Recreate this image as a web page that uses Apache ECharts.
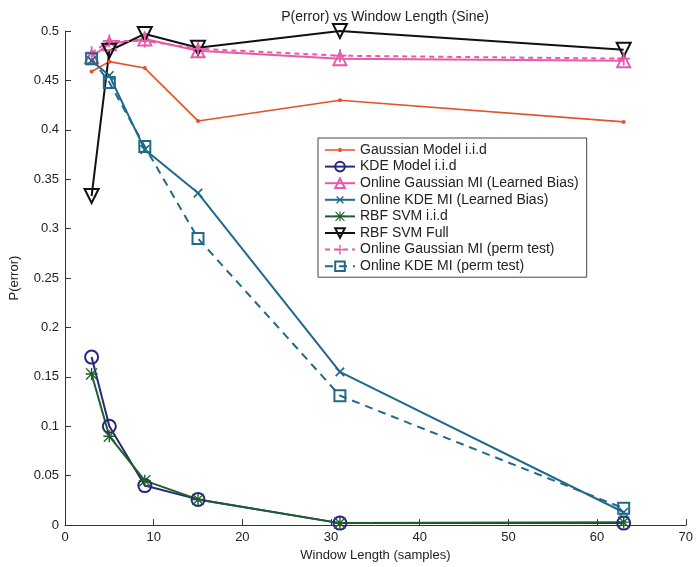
<!DOCTYPE html>
<html>
<head>
<meta charset="utf-8">
<script src="https://cdn.jsdelivr.net/npm/echarts@6/dist/echarts.min.js"></script>
<style>
  html, body { margin: 0; padding: 0; background: #fff; }
  #chart { width: 696px; height: 567px; }
</style>
</head>
<body>
<div id="chart"></div>
<script>
// window lengths (samples)
const windowLen = [3, 5, 9, 15, 31, 63]

const gaussIid = [0.459, 0.469, 0.4625, 0.409, 0.430, 0.408]
const kdeIid = [0.170, 0.100, 0.040, 0.026, 0.002, 0.002]
const onlineGaussLB = [0.474, 0.487, 0.492, 0.480, 0.472, 0.470]
const onlineKdeLB = [0.470, 0.455, 0.380, 0.336, 0.155, 0.013]
const rbfIid = [0.153, 0.090, 0.045, 0.026, 0.002, 0.003]
const rbfFull = [0.333, 0.480, 0.497, 0.483, 0.500, 0.481]
const onlineGaussPerm = [0.478, 0.490, 0.490, 0.482, 0.475, 0.472]
const onlineKdePerm = [0.472, 0.448, 0.383, 0.290, 0.131, 0.017]

const xTicks = [0, 10, 20, 30, 40, 50, 60, 70]

const ORANGE = '#e4512b'
const NAVY = '#27287f'
const PINK = '#e65aa8'
const TEAL = '#21698a'
const GREEN = '#1e5e2a'

// marker shapes
const plusPath = 'path://M4.3,0h1.4v10h-1.4zM0,4.3h10v1.4h-10z'
const starPath = 'path://M4.4,0h1.2v10h-1.2zM0,4.4h10v1.2h-10z' +
  'M0,0.8L0.8,0L10,9.2L9.2,10zM9.2,0L10,0.8L0.8,10L0,9.2z'
// line with a small dot, for the legend entry of the plain series
const dotLinePath = 'path://M0,5.2h30v1.6h-30zM13.5,4h3v4h-3z'

const pair = ys => windowLen.map((x, i) => [x, ys[i]])

const mk = (name, ys, color, symbol, size, opts) => Object.assign({
  name: name,
  type: 'line',
  data: pair(ys),
  symbol: symbol,
  symbolSize: size,
  lineStyle: { color: color, width: 2 },
  itemStyle: { color: 'rgba(0,0,0,0)', borderColor: color, borderWidth: 2 },
  emphasis: { disabled: true },
  animation: false
}, opts || {})

const chart = echarts.init(document.getElementById('chart'))

chart.setOption({
  backgroundColor: '#fff',
  textStyle: { fontFamily: 'Liberation Sans, Arial, sans-serif' },
  title: {
    text: 'P(error) vs Window Length (Sine)',
    left: 380,
    top: 5,
    textAlign: 'center',
    textStyle: { fontSize: 14, fontWeight: 'normal', color: '#222' }
  },
  legend: {
    left: 318,
    top: 138,
    orient: 'vertical',
    itemWidth: 30,
    itemHeight: 12,
    itemGap: 2.6,
    padding: [5, 8, 4, 6],
    borderColor: '#444',
    borderWidth: 1,
    backgroundColor: '#fff',
    textStyle: { fontSize: 14, color: '#222' },
    data: [
      { name: 'Gaussian Model i.i.d', icon: dotLinePath },
      'KDE Model i.i.d', 'Online Gaussian MI (Learned Bias)',
      'Online KDE MI (Learned Bias)', 'RBF SVM i.i.d', 'RBF SVM Full',
      'Online Gaussian MI (perm test)', 'Online KDE MI (perm test)']
  },
  grid: { left: 64, right: 9, top: 31, bottom: 40 },
  xAxis: {
    type: 'value',
    min: 0,
    max: 70,
    interval: 10,
    name: 'Window Length (samples)',
    nameLocation: 'middle',
    nameGap: 21,
    nameTextStyle: { fontSize: 13, color: '#222' },
    axisLine: { lineStyle: { color: '#333', width: 1 } },
    axisTick: { inside: true, length: 6, lineStyle: { color: '#333' } },
    axisLabel: {
      fontSize: 13, color: '#222', margin: 6,
      formatter: v => xTicks.includes(v) ? String(v) : ''
    },
    splitLine: { show: false }
  },
  yAxis: {
    type: 'value',
    min: 0,
    max: 0.5,
    interval: 0.05,
    name: 'P(error)',
    nameLocation: 'middle',
    nameGap: 44,
    nameTextStyle: { fontSize: 13, color: '#222' },
    axisLine: { show: true, lineStyle: { color: '#333', width: 1 } },
    axisTick: { show: true, inside: true, length: 6, lineStyle: { color: '#333' } },
    axisLabel: { fontSize: 13, color: '#222', margin: 6 },
    splitLine: { show: false }
  },
  series: [
    mk('Gaussian Model i.i.d', gaussIid, ORANGE, 'circle', 4, {
      lineStyle: { color: ORANGE, width: 1.6 },
      itemStyle: { color: ORANGE }
    }),
    mk('KDE Model i.i.d', kdeIid, NAVY, 'circle', 13),
    mk('Online Gaussian MI (Learned Bias)', onlineGaussLB, PINK, 'triangle', 13),
    mk('Online KDE MI (Learned Bias)', onlineKdeLB, TEAL, plusPath, 12, {
      symbolRotate: 45,
      itemStyle: { color: TEAL }
    }),
    mk('RBF SVM i.i.d', rbfIid, GREEN, starPath, 12, {
      itemStyle: { color: GREEN }
    }),
    mk('RBF SVM Full', rbfFull, '#111', 'triangle', 14, {
      symbolRotate: 180
    }),
    mk('Online Gaussian MI (perm test)', onlineGaussPerm, PINK, plusPath, 13, {
      lineStyle: { color: PINK, width: 2, type: [5, 4] },
      itemStyle: { color: PINK }
    }),
    mk('Online KDE MI (perm test)', onlineKdePerm, TEAL, 'rect', 11, {
      lineStyle: { color: TEAL, width: 2, type: [8, 6] }
    })
  ]
})
</script>
</body>
</html>
